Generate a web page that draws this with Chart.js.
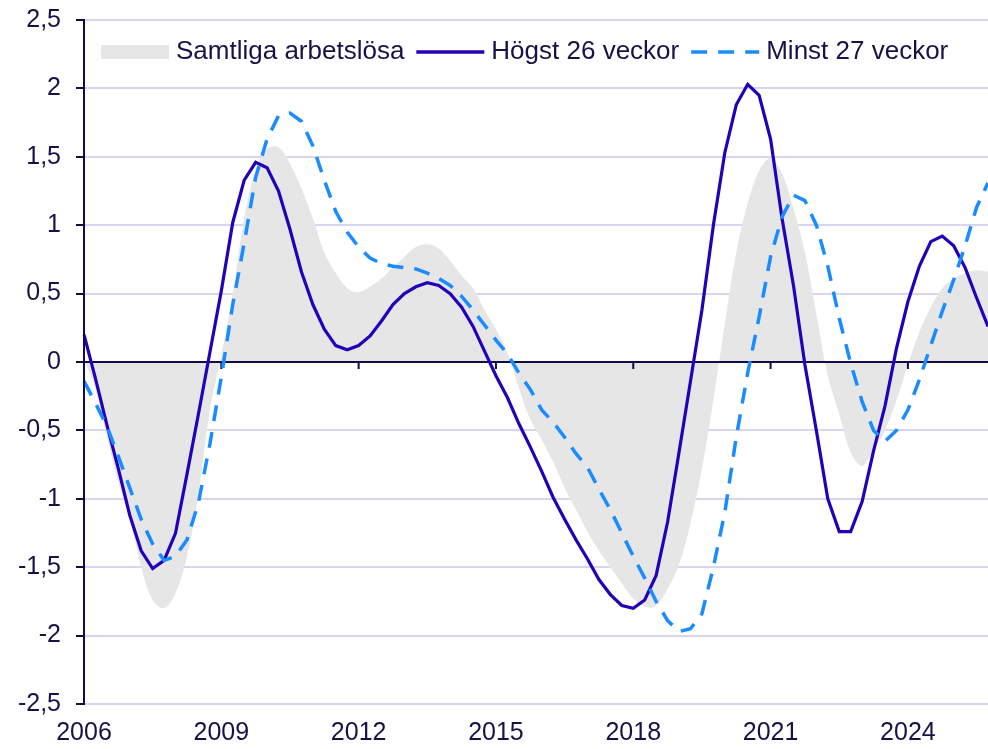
<!DOCTYPE html>
<html><head><meta charset="utf-8">
<script src="https://cdn.jsdelivr.net/npm/chart.js@4/dist/chart.umd.min.js"></script>
<style>html,body{margin:0;padding:0;background:#fff;overflow:hidden;}</style>
</head><body>
<canvas id="c" width="988" height="749" style="display:block;width:988px;height:749px"></canvas>
<script>
const quarters = [
'2006K1','2006K2','2006K3','2006K4','2007K1','2007K2','2007K3','2007K4',
'2008K1','2008K2','2008K3','2008K4','2009K1','2009K2','2009K3','2009K4',
'2010K1','2010K2','2010K3','2010K4','2011K1','2011K2','2011K3','2011K4',
'2012K1','2012K2','2012K3','2012K4','2013K1','2013K2','2013K3','2013K4',
'2014K1','2014K2','2014K3','2014K4','2015K1','2015K2','2015K3','2015K4',
'2016K1','2016K2','2016K3','2016K4','2017K1','2017K2','2017K3','2017K4',
'2018K1','2018K2','2018K3','2018K4','2019K1','2019K2','2019K3','2019K4',
'2020K1','2020K2','2020K3','2020K4','2021K1','2021K2','2021K3','2021K4',
'2022K1','2022K2','2022K3','2022K4','2023K1','2023K2','2023K3','2023K4',
'2024K1','2024K2','2024K3','2024K4','2025K1','2025K2','2025K3','2025K4'];

const tickYears = ['2006','2009','2012','2015','2018','2021','2024'];

const seriesNames = ['Samtliga arbetslösa','Högst 26 veckor','Minst 27 veckor'];

const samtliga = [
 0.02,-0.2,-0.55,-0.88,-1.15,-1.5,-1.74,-1.8,-1.69,-1.42,-0.97,-0.35,0.05,0.5,1.05,1.4,
 1.56,1.57,1.45,1.27,1.05,0.8,0.65,0.54,0.51,0.55,0.61,0.69,0.77,0.84,0.86,0.83,
 0.74,0.63,0.54,0.38,0.24,0.07,-0.19,-0.42,-0.57,-0.73,-0.92,-1.08,-1.24,-1.38,-1.5,-1.62,
 -1.73,-1.79,-1.78,-1.66,-1.48,-1.18,-0.78,-0.28,0.28,0.8,1.16,1.4,1.49,1.38,1.12,0.8,
 0.35,-0.1,-0.38,-0.66,-0.76,-0.64,-0.5,-0.28,-0.02,0.22,0.4,0.54,0.61,0.65,0.67,0.66];

const hogst = [
 0.2,-0.12,-0.46,-0.78,-1.12,-1.38,-1.51,-1.45,-1.25,-0.82,-0.38,0.07,0.52,1.02,1.33,1.46,
 1.42,1.25,0.97,0.66,0.42,0.24,0.12,0.09,0.12,0.19,0.3,0.42,0.5,0.55,0.58,0.56,
 0.5,0.4,0.26,0.08,-0.1,-0.26,-0.45,-0.62,-0.8,-0.99,-1.15,-1.3,-1.44,-1.59,-1.7,-1.78,
 -1.8,-1.74,-1.56,-1.17,-0.66,-0.14,0.38,1.0,1.53,1.88,2.03,1.95,1.63,1.05,0.56,-0.02,
 -0.5,-1.0,-1.24,-1.24,-1.02,-0.65,-0.32,0.1,0.44,0.7,0.88,0.92,0.85,0.69,0.47,0.26];

const minst = [
 -0.14,-0.3,-0.47,-0.69,-0.92,-1.15,-1.33,-1.45,-1.42,-1.3,-1.03,-0.6,-0.11,0.42,0.87,1.35,
 1.63,1.8,1.82,1.76,1.58,1.33,1.1,0.95,0.84,0.76,0.72,0.7,0.69,0.68,0.65,0.61,
 0.56,0.48,0.38,0.27,0.16,0.06,-0.08,-0.2,-0.35,-0.44,-0.55,-0.67,-0.77,-0.93,-1.08,-1.25,
 -1.42,-1.58,-1.75,-1.89,-1.97,-1.95,-1.84,-1.5,-1.1,-0.55,-0.08,0.33,0.77,1.06,1.22,1.18,
 1.0,0.7,0.32,-0.01,-0.29,-0.5,-0.58,-0.5,-0.35,-0.13,0.12,0.37,0.6,0.85,1.13,1.31];

const FONT = '"Liberation Sans", Arial, sans-serif';
const TEXT = '#17114a';
const AXIS = '#120b45';
const GRID = '#d6d6f0';
const GRAY = '#e6e6e6';
const SOLID = '#2400b8';
const DASH = '#1a8cff';
const DASHPAT = [16, 11];

const zeroLinePlugin = {
  id: 'zeroLine',
  afterDatasetDraw(chart, args) {
    if (args.index !== 2) return;
    const {ctx, chartArea, scales} = chart;
    const y0 = scales.y.getPixelForValue(0);
    ctx.save();
    ctx.strokeStyle = AXIS;
    ctx.lineWidth = 2;
    ctx.beginPath();
    ctx.moveTo(chartArea.left, y0);
    ctx.lineTo(chartArea.right, y0);
    quarters.forEach((q, i) => {
      const yr = q.slice(0, 4);
      if (q.endsWith('K1') && tickYears.includes(yr) && i > 0) {
        const x = scales.x.getPixelForValue(i);
        ctx.moveTo(x, y0);
        ctx.lineTo(x, y0 + 7);
      }
    });
    ctx.stroke();
    ctx.restore();
  }
};

const legendPlugin = {
  id: 'customLegend',
  afterDraw(chart) {
    const {ctx, chartArea} = chart;
    let x = chartArea.left + 17;
    const yc = chartArea.top + 32;
    ctx.save();
    ctx.font = '26px ' + FONT;
    ctx.textBaseline = 'middle';
    ctx.textAlign = 'left';
    const styles = [
      {type: 'box', color: GRAY},
      {type: 'line', color: SOLID, dash: []},
      {type: 'line', color: DASH, dash: DASHPAT}
    ];
    seriesNames.forEach((name, k) => {
      const st = styles[k];
      if (st.type === 'box') {
        ctx.fillStyle = st.color;
        ctx.fillRect(x, yc - 7, 68, 14);
      } else {
        ctx.strokeStyle = st.color;
        ctx.lineWidth = 3.5;
        ctx.setLineDash(st.dash);
        ctx.beginPath();
        ctx.moveTo(x, yc);
        ctx.lineTo(x + 68, yc);
        ctx.stroke();
        ctx.setLineDash([]);
      }
      x += 68 + 7;
      ctx.fillStyle = TEXT;
      ctx.fillText(name, x, yc);
      x += ctx.measureText(name).width + 12;
    });
    ctx.restore();
  }
};

new Chart(document.getElementById('c'), {
  type: 'line',
  data: {
    labels: quarters,
    datasets: [
      {label: seriesNames[2], data: minst, borderColor: DASH, borderWidth: 3.5, borderDash: DASHPAT,
       pointRadius: 0, fill: false, tension: 0},
      {label: seriesNames[1], data: hogst, borderColor: SOLID, borderWidth: 3.2,
       pointRadius: 0, fill: false, tension: 0},
      {label: seriesNames[0], data: samtliga, borderWidth: 0, borderColor: GRAY, backgroundColor: GRAY,
       pointRadius: 0, fill: 'origin', tension: 0.35}
    ]
  },
  options: {
    responsive: false,
    animation: false,
    layout: {padding: {top: 20, right: 0, left: 0, bottom: 0}},
    plugins: {legend: {display: false}, tooltip: {enabled: false}},
    scales: {
      x: {
        type: 'category',
        offset: false,
        grid: {display: false, drawTicks: false},
        border: {display: false},
        ticks: {
          autoSkip: false, maxRotation: 0, minRotation: 0, padding: 14,
          color: TEXT, font: {family: FONT, size: 25},
          callback(v, i) {
            const q = quarters[i];
            const yr = q.slice(0, 4);
            return (q.endsWith('K1') && tickYears.includes(yr)) ? yr : '';
          }
        },
        afterFit(s) { s.height = 45; s.paddingLeft = 0; s.paddingRight = 0; }
      },
      y: {
        min: -2.5, max: 2.5,
        ticks: {
          stepSize: 0.5, padding: 15, color: TEXT, font: {family: FONT, size: 25},
          callback(v) { return String(Number(v.toFixed(1))).replace('.', ','); }
        },
        grid: {color: GRID, lineWidth: 2, tickLength: 8, tickColor: AXIS, tickWidth: 2},
        border: {color: AXIS, width: 2, z: 1},
        afterFit(s) { s.width = 84; s.paddingTop = 0; s.paddingBottom = 0; }
      }
    }
  },
  plugins: [zeroLinePlugin, legendPlugin]
});
</script>
</body></html>
